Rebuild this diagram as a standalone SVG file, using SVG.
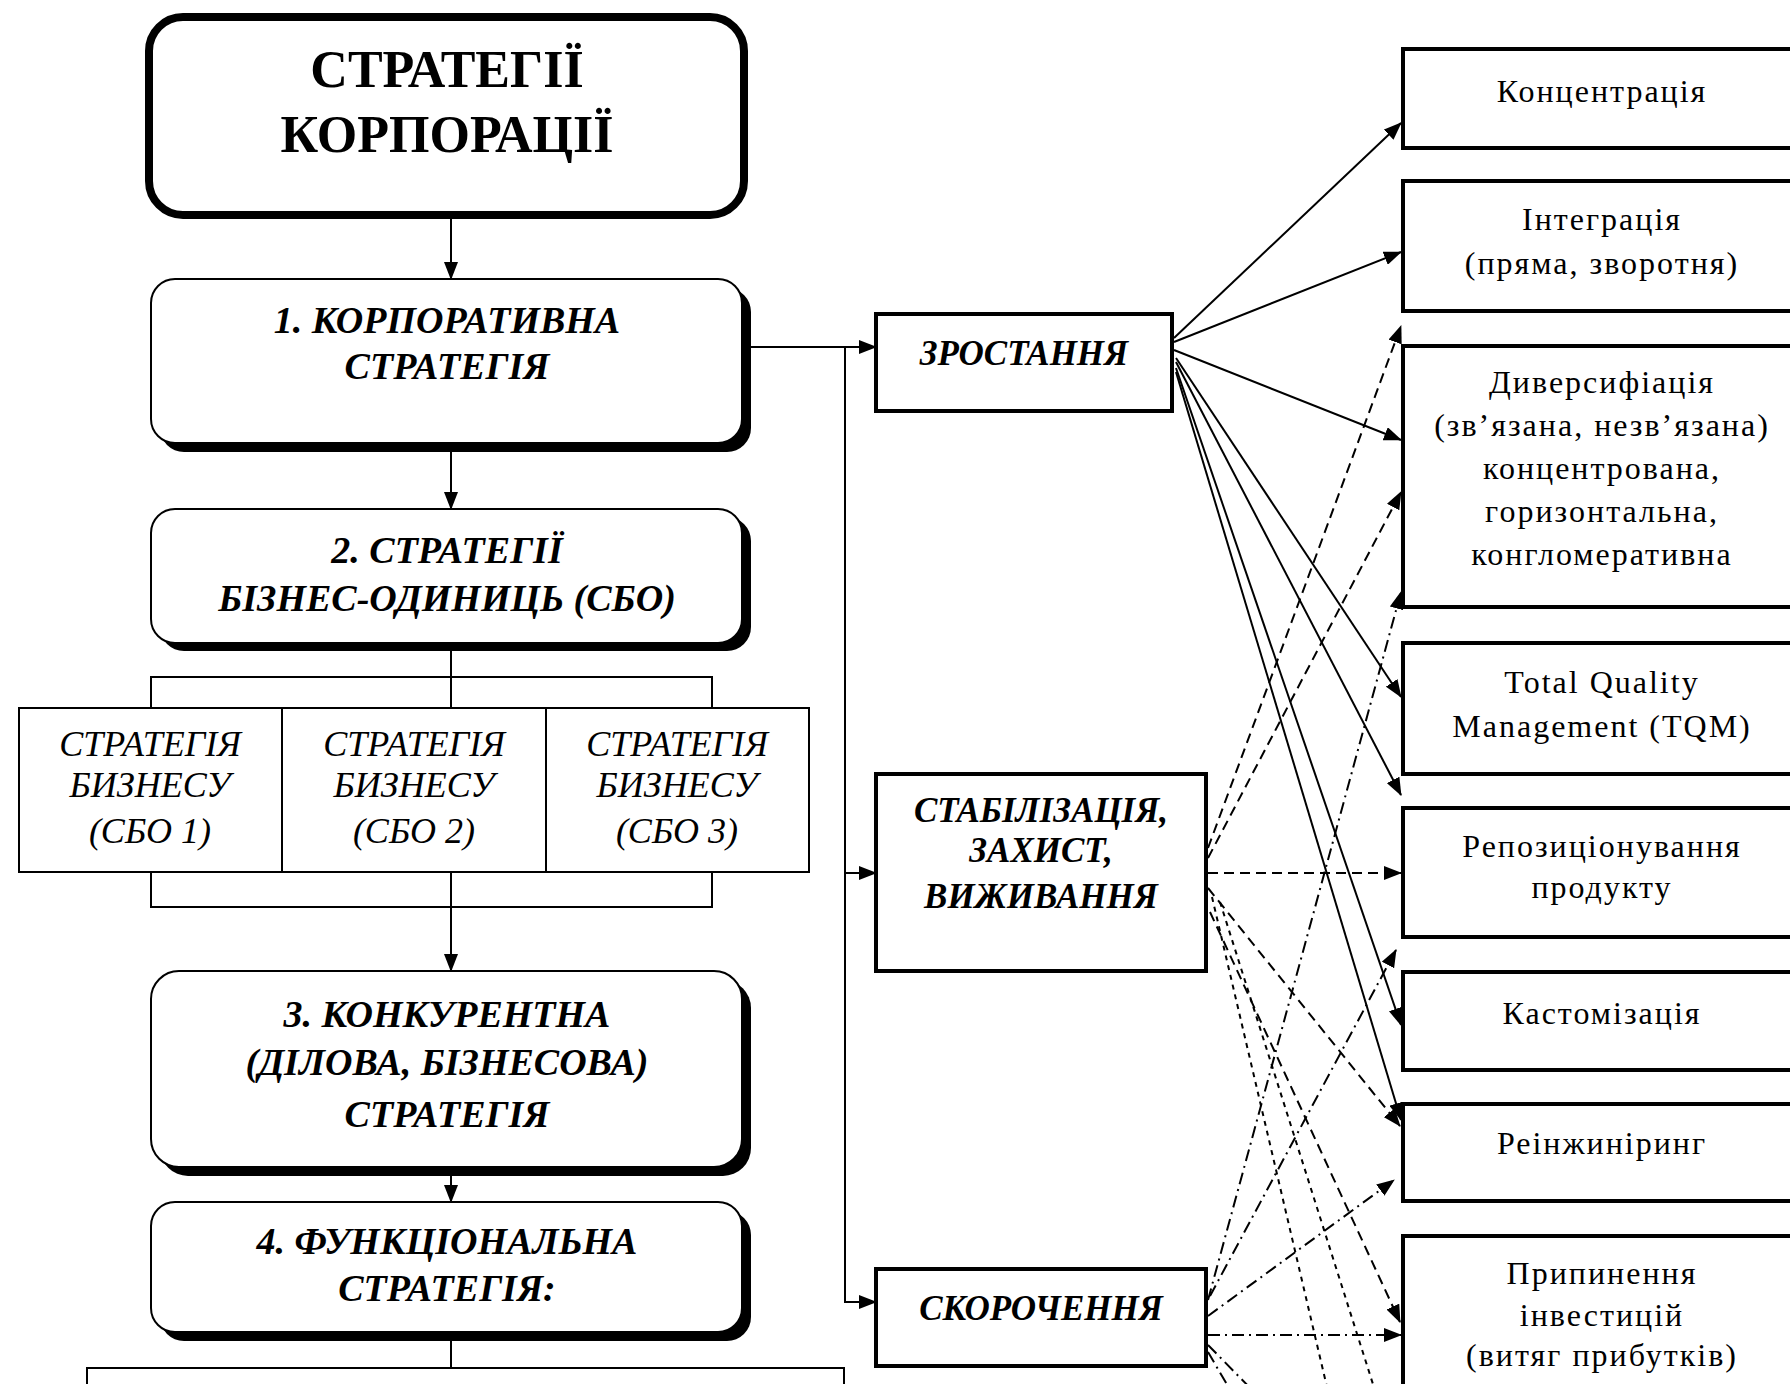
<svg xmlns="http://www.w3.org/2000/svg" width="1790" height="1384" viewBox="0 0 1790 1384">
<defs>
<marker id="ah" markerUnits="userSpaceOnUse" markerWidth="18" markerHeight="14" viewBox="0 0 18 14" refX="17" refY="7" orient="auto"><path d="M0,0 L18,7 L0,14 Z" fill="#000"/></marker>
<style>
.t{font-family:"Liberation Serif","Times New Roman",serif;fill:#000;text-anchor:middle}
.title{font-size:52px;font-weight:bold}
.bi{font-size:38px;font-weight:bold;font-style:italic}
.mi{font-size:35px;font-weight:bold;font-style:italic}
.si{font-size:36px;font-style:italic}
.r{font-size:32px;letter-spacing:2px}
.shadow{fill:#000}
.rb{fill:#fff;stroke:#000;stroke-width:2}
.box{fill:#fff;stroke:#000;stroke-width:4}
.thin{fill:none;stroke:#000;stroke-width:2}
.ln{fill:none;stroke:#000;stroke-width:2}
.sol{fill:none;stroke:#000;stroke-width:2;marker-end:url(#ah)}
.dsh{fill:none;stroke:#000;stroke-width:2;stroke-dasharray:10 6;marker-end:url(#ah)}
.dsh2{fill:none;stroke:#000;stroke-width:2;stroke-dasharray:5 5}
.dd{fill:none;stroke:#000;stroke-width:2;stroke-dasharray:12 5 2 5;marker-end:url(#ah)}
.dd2{fill:none;stroke:#000;stroke-width:2;stroke-dasharray:12 5 2 5}
</style>
</defs>
<rect width="1790" height="1384" fill="#fff"/>

<g id="title">
<rect x="149" y="17" width="595" height="198" rx="34" fill="#fff" stroke="#000" stroke-width="8"/>
<text class="t title" x="447" y="87">СТРАТЕГІЇ</text>
<text class="t title" x="447" y="152">КОРПОРАЦІЇ</text>
</g>

<g id="box1">
<rect class="shadow" x="160" y="288" width="591" height="164" rx="24"/>
<rect class="rb" x="151" y="279" width="591" height="164" rx="24"/>
<text class="t bi" x="447" y="333">1. КОРПОРАТИВНА</text>
<text class="t bi" x="447" y="379">СТРАТЕГІЯ</text>
</g>

<g id="box2">
<rect class="shadow" x="160" y="517" width="591" height="134" rx="24"/>
<rect class="rb" x="151" y="509" width="591" height="134" rx="24"/>
<text class="t bi" x="447" y="563">2. СТРАТЕГІЇ</text>
<text class="t bi" x="447" y="611">БІЗНЕС-ОДИНИЦЬ (СБО)</text>
</g>

<g id="sbo">
<rect class="thin" x="19" y="708" width="790" height="164"/>
<line class="ln" x1="282" y1="708" x2="282" y2="872"/>
<line class="ln" x1="546" y1="708" x2="546" y2="872"/>
<text class="t si" x="150" y="756">СТРАТЕГІЯ</text>
<text class="t si" x="150" y="797">БИЗНЕСУ</text>
<text class="t si" x="150" y="843">(СБО 1)</text>
<text class="t si" x="414" y="756">СТРАТЕГІЯ</text>
<text class="t si" x="414" y="797">БИЗНЕСУ</text>
<text class="t si" x="414" y="843">(СБО 2)</text>
<text class="t si" x="677" y="756">СТРАТЕГІЯ</text>
<text class="t si" x="677" y="797">БИЗНЕСУ</text>
<text class="t si" x="677" y="843">(СБО 3)</text>
</g>

<g id="box3">
<rect class="shadow" x="160" y="980" width="591" height="196" rx="28"/>
<rect class="rb" x="151" y="971" width="591" height="196" rx="28"/>
<text class="t bi" x="447" y="1027">3. КОНКУРЕНТНА</text>
<text class="t bi" x="447" y="1075">(ДІЛОВА, БІЗНЕСОВА)</text>
<text class="t bi" x="447" y="1127">СТРАТЕГІЯ</text>
</g>

<g id="box4">
<rect class="shadow" x="160" y="1211" width="591" height="130" rx="24"/>
<rect class="rb" x="151" y="1202" width="591" height="130" rx="24"/>
<text class="t bi" x="447" y="1254">4. ФУНКЦІОНАЛЬНА</text>
<text class="t bi" x="447" y="1301">СТРАТЕГІЯ:</text>
</g>

<g id="zrost">
<rect class="box" x="876" y="314" width="296" height="97"/>
<text class="t mi" x="1024" y="365">ЗРОСТАННЯ</text>
</g>
<g id="stab">
<rect class="box" x="876" y="774" width="330" height="197"/>
<text class="t mi" x="1041" y="822">СТАБІЛІЗАЦІЯ,</text>
<text class="t mi" x="1041" y="862">ЗАХИСТ,</text>
<text class="t mi" x="1041" y="908">ВИЖИВАННЯ</text>
</g>
<g id="skor">
<rect class="box" x="876" y="1269" width="330" height="97"/>
<text class="t mi" x="1041" y="1320">СКОРОЧЕННЯ</text>
</g>

<g id="r1"><rect class="box" x="1403" y="49" width="400" height="99"/><text class="t r" x="1602" y="102">Концентрація</text></g>
<g id="r2"><rect class="box" x="1403" y="181" width="400" height="130"/><text class="t r" x="1602" y="230">Інтеграція</text><text class="t r" x="1602" y="274">(пряма, зворотня)</text></g>
<g id="r3"><rect class="box" x="1403" y="346" width="400" height="261"/><text class="t r" x="1602" y="393">Диверсифіація</text><text class="t r" x="1602" y="436">(зв’язана, незв’язана)</text><text class="t r" x="1602" y="479">концентрована,</text><text class="t r" x="1602" y="522">горизонтальна,</text><text class="t r" x="1602" y="565">конгломеративна</text></g>
<g id="r4"><rect class="box" x="1403" y="643" width="400" height="131"/><text class="t r" x="1602" y="693">Total Quality</text><text class="t r" x="1602" y="737">Management (TQM)</text></g>
<g id="r5"><rect class="box" x="1403" y="808" width="400" height="129"/><text class="t r" x="1602" y="857">Репозиціонування</text><text class="t r" x="1602" y="898">продукту</text></g>
<g id="r6"><rect class="box" x="1403" y="972" width="400" height="98"/><text class="t r" x="1602" y="1024">Кастомізація</text></g>
<g id="r7"><rect class="box" x="1403" y="1104" width="400" height="97"/><text class="t r" x="1602" y="1154">Реінжиніринг</text></g>
<g id="r8"><rect class="box" x="1403" y="1236" width="400" height="200"/><text class="t r" x="1602" y="1284">Припинення</text><text class="t r" x="1602" y="1326">інвестицій</text><text class="t r" x="1602" y="1366">(витяг прибутків)</text></g>

<g id="connectors">
<line class="sol" x1="451" y1="219" x2="451" y2="279"/>
<line class="sol" x1="451" y1="452" x2="451" y2="509"/>
<line class="ln" x1="451" y1="651" x2="451" y2="708"/>
<polyline class="ln" points="151,708 151,677 712,677 712,708"/>
<polyline class="ln" points="151,872 151,907 712,907 712,872"/>
<line class="sol" x1="451" y1="872" x2="451" y2="971"/>
<line class="sol" x1="451" y1="1176" x2="451" y2="1202"/>
<line class="ln" x1="451" y1="1341" x2="451" y2="1368"/>
<polyline class="ln" points="87,1390 87,1368 844,1368 844,1390"/>

<line class="sol" x1="751" y1="347" x2="876" y2="347"/>
<polyline class="sol" points="845,347 845,1302 876,1302"/>
<line class="sol" x1="845" y1="873" x2="876" y2="873"/>

<line class="sol" x1="1174" y1="338" x2="1401" y2="123"/>
<line class="sol" x1="1174" y1="342" x2="1401" y2="252"/>
<line class="sol" x1="1174" y1="350" x2="1401" y2="440"/>
<line class="sol" x1="1176" y1="358" x2="1401" y2="697"/>
<line class="sol" x1="1176" y1="362" x2="1401" y2="795"/>
<line class="sol" x1="1176" y1="368" x2="1401" y2="1025"/>
<line class="sol" x1="1176" y1="372" x2="1401" y2="1120"/>

<line class="dsh" x1="1208" y1="848" x2="1401" y2="326"/>
<line class="dsh" x1="1208" y1="858" x2="1401" y2="492"/>
<line class="dsh" x1="1208" y1="873" x2="1401" y2="873"/>
<line class="dsh" x1="1208" y1="888" x2="1400" y2="1126"/>
<line class="dsh" x1="1210" y1="912" x2="1400" y2="1322"/>
<line class="dsh2" x1="1212" y1="897" x2="1330" y2="1400"/>
<line class="dsh2" x1="1220" y1="902" x2="1378" y2="1400"/>

<line class="dd" x1="1208" y1="1300" x2="1401" y2="592"/>
<line class="dd" x1="1210" y1="1296" x2="1396" y2="950"/>
<line class="dd" x1="1208" y1="1316" x2="1394" y2="1180"/>
<line class="dd" x1="1208" y1="1335" x2="1401" y2="1335"/>
<line class="dd2" x1="1208" y1="1345" x2="1262" y2="1400"/>
<line class="dd2" x1="1208" y1="1352" x2="1236" y2="1400"/>
</g>
</svg>
